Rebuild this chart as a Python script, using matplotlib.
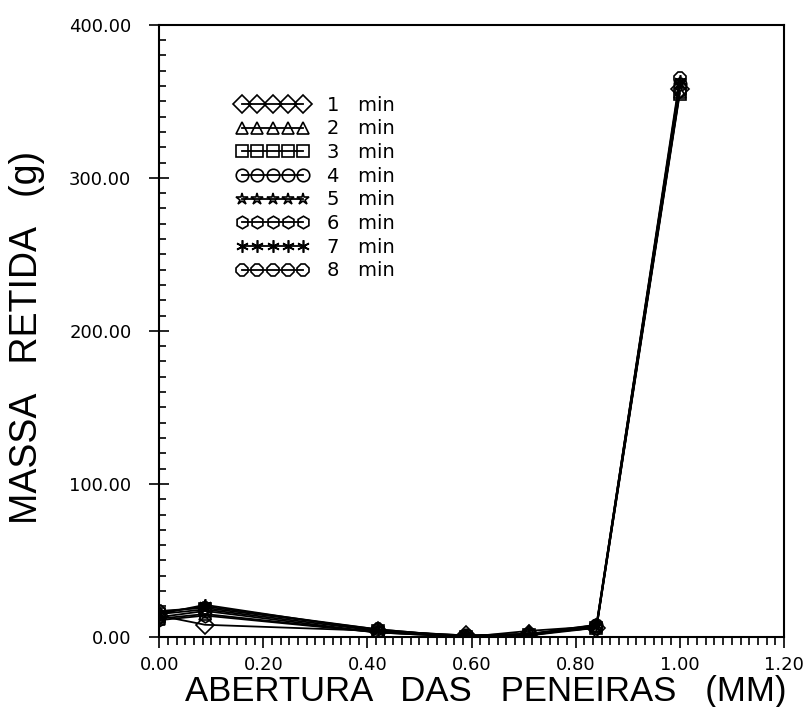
import numpy as np
import matplotlib
matplotlib.use("Agg")
import matplotlib.pyplot as plt
from matplotlib.ticker import MultipleLocator, FormatStrFormatter

# sieve openings (mm)
abertura = [0.0, 0.088, 0.42, 0.59, 0.71, 0.84, 1.00]

# retained mass (g) per sieving time
massa_1 = [14, 8, 4, 1, 2, 6, 358]
massa_2 = [12, 15, 3, 0, 4, 7, 356]
massa_3 = [15, 18, 4, 0, 1, 6, 355]
massa_4 = [13, 17, 3, 1, 2, 8, 361]
massa_5 = [16, 20, 5, 0, 1, 7, 362]
massa_6 = [11, 14, 3, 0, 2, 6, 357]
massa_7 = [15, 21, 4, 1, 1, 8, 363]
massa_8 = [17, 19, 5, 0, 2, 7, 365]

labels = ["1   min", "2   min", "3   min", "4   min", "5   min", "6   min", "7   min", "8   min"]

series = [massa_1, massa_2, massa_3, massa_4, massa_5, massa_6, massa_7, massa_8]
markers = ['D', '^', 's', 'o', '*', 'h', (6, 2, 0), '8']

plt.rcParams['font.family'] = ['Liberation Sans', 'DejaVu Sans']

fig = plt.figure(figsize=(8.04, 7.07), dpi=100)
ax = fig.add_axes([0.198, 0.099, 0.777, 0.866])

for ys, m, lab in zip(series, markers, labels):
    ax.plot(abertura, ys, color='black', linewidth=1.3, marker=m,
            markersize=9, markerfacecolor='none', markeredgecolor='black',
            markeredgewidth=1.2, label=lab)

ax.set_xlim(0, 1.2)
ax.set_ylim(0, 400)
ax.xaxis.set_major_locator(MultipleLocator(0.2))
ax.xaxis.set_minor_locator(MultipleLocator(0.2 / 12))
ax.yaxis.set_major_locator(MultipleLocator(100))
ax.yaxis.set_minor_locator(MultipleLocator(10))
ax.xaxis.set_major_formatter(FormatStrFormatter('%.2f'))
ax.yaxis.set_major_formatter(FormatStrFormatter('%.2f'))

ax.tick_params(axis='x', which='major', direction='out', length=8, width=1.2, labelsize=13, pad=6)
ax.tick_params(axis='x', which='minor', direction='out', length=6, width=1.2)
ax.tick_params(axis='y', which='major', direction='inout', length=14, width=1.2, labelsize=13, pad=13)
ax.tick_params(axis='y', which='minor', direction='in', length=5, width=1.2)
for lbl in ax.get_xticklabels() + ax.get_yticklabels():
    lbl.set_family('DejaVu Sans')

for s in ax.spines.values():
    s.set_linewidth(1.5)

ax.set_xlabel('ABERTURA   DAS   PENEIRAS   (MM)', fontsize=25)
ax.xaxis.set_label_coords(0.523, -0.062)
ax.set_ylabel('MASSA   RETIDA   (g)', fontsize=27)
ax.yaxis.set_label_coords(-0.183, 0.49)

ax.legend(loc='upper left', bbox_to_anchor=(0.123, 0.884), frameon=False,
          numpoints=5, handlelength=3.76, handletextpad=0.93,
          borderpad=0, borderaxespad=0,
          prop={'family': 'DejaVu Sans', 'size': 14},
          labelspacing=0.24, markerscale=1.0)

plt.savefig('out.png', dpi=100)
